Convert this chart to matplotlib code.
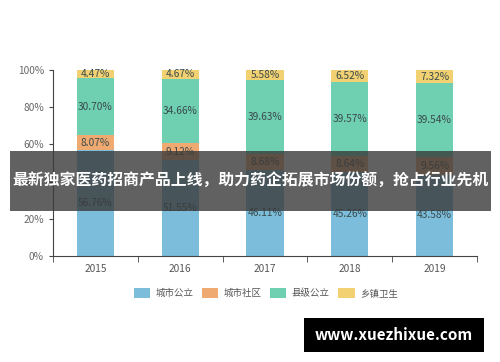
import matplotlib.pyplot as plt
from matplotlib.patches import Rectangle, Patch

plt.rcParams['font.family'] = ['Noto Sans CJK SC', 'DejaVu Sans']

# Data
years = ["2015", "2016", "2017", "2018", "2019"]
series_names = ["城市公立", "城市社区", "县级公立", "乡镇卫生"]
city_public = [56.76, 51.55, 46.11, 45.26, 43.58]
city_community = [8.07, 9.12, 8.68, 8.64, 9.56]
county_public = [30.70, 34.66, 39.63, 39.57, 39.54]
township = [4.47, 4.67, 5.58, 6.52, 7.32]
colors = ["#7bbddb", "#efaa72", "#6fcfb1", "#f1d172"]

fig = plt.figure(figsize=(5, 3.62), dpi=100)
ax = fig.add_axes([0.106, 0.293, 0.848, 0.514])

x = list(range(len(years)))
bottom = [0] * len(years)
for vals, col in zip([city_public, city_community, county_public, township], colors):
    ax.bar(x, vals, bottom=bottom, width=0.44, color=col, zorder=2)
    for i, v in enumerate(vals):
        ax.text(x[i], bottom[i] + v / 2, f"{v:.2f}%", ha='center', va='center',
                fontsize=7.3, color='#3a4a4a', zorder=3)
    bottom = [b + v for b, v in zip(bottom, vals)]

ax.set_xlim(-0.5, len(years) - 0.5)
ax.set_ylim(0, 100)
ax.set_yticks(range(0, 101, 20))
ax.set_yticklabels([f"{t}%" for t in range(0, 101, 20)])
ax.set_xticks(x)
ax.set_xticklabels(years)
ax.set_xticks([i - 0.5 for i in range(len(years) + 1)], minor=True)
ax.tick_params(axis='x', which='major', length=0, labelsize=7.3, colors='#555555', pad=6)
ax.tick_params(axis='x', which='minor', length=4, color='#444444')
ax.tick_params(axis='y', length=3, labelsize=7.3, colors='#666666', color='#444444')
for s in ['top', 'right']:
    ax.spines[s].set_visible(False)
ax.spines['left'].set_color('#444444')
ax.spines['bottom'].set_color('#444444')

# Legend
handles = [Patch(facecolor=c, edgecolor='none', label=n) for c, n in zip(colors, series_names)]
fig.legend(handles=handles, ncol=4, frameon=False, loc='center',
           bbox_to_anchor=(0.532, (362 - 293) / 362), fontsize=6.8,
           handlelength=1.7, handleheight=1.2, columnspacing=0.9, handletextpad=0.6,
           labelcolor='#555555')

# Banner overlay
fig.patches.append(Rectangle((0.02, 0.417), 0.962, 0.166, transform=fig.transFigure,
                             facecolor='#3a3a3a', alpha=0.8, zorder=5))
fig.text(0.5, 0.5, "最新独家医药招商产品上线，助力药企拓展市场份额，抢占行业先机",
         ha='center', va='center', fontsize=11.4, fontweight='bold', color='white', zorder=6)

# Watermark box
fig.patches.append(Rectangle((0.608, 0.028), 0.36, 0.094, transform=fig.transFigure,
                             facecolor='black', zorder=5))
fig.text(0.788, 0.075, "www.xuezhixue.com", ha='center', va='center',
         fontsize=11, fontweight='bold', color='white', zorder=6)

plt.savefig("out.png", dpi=100)
